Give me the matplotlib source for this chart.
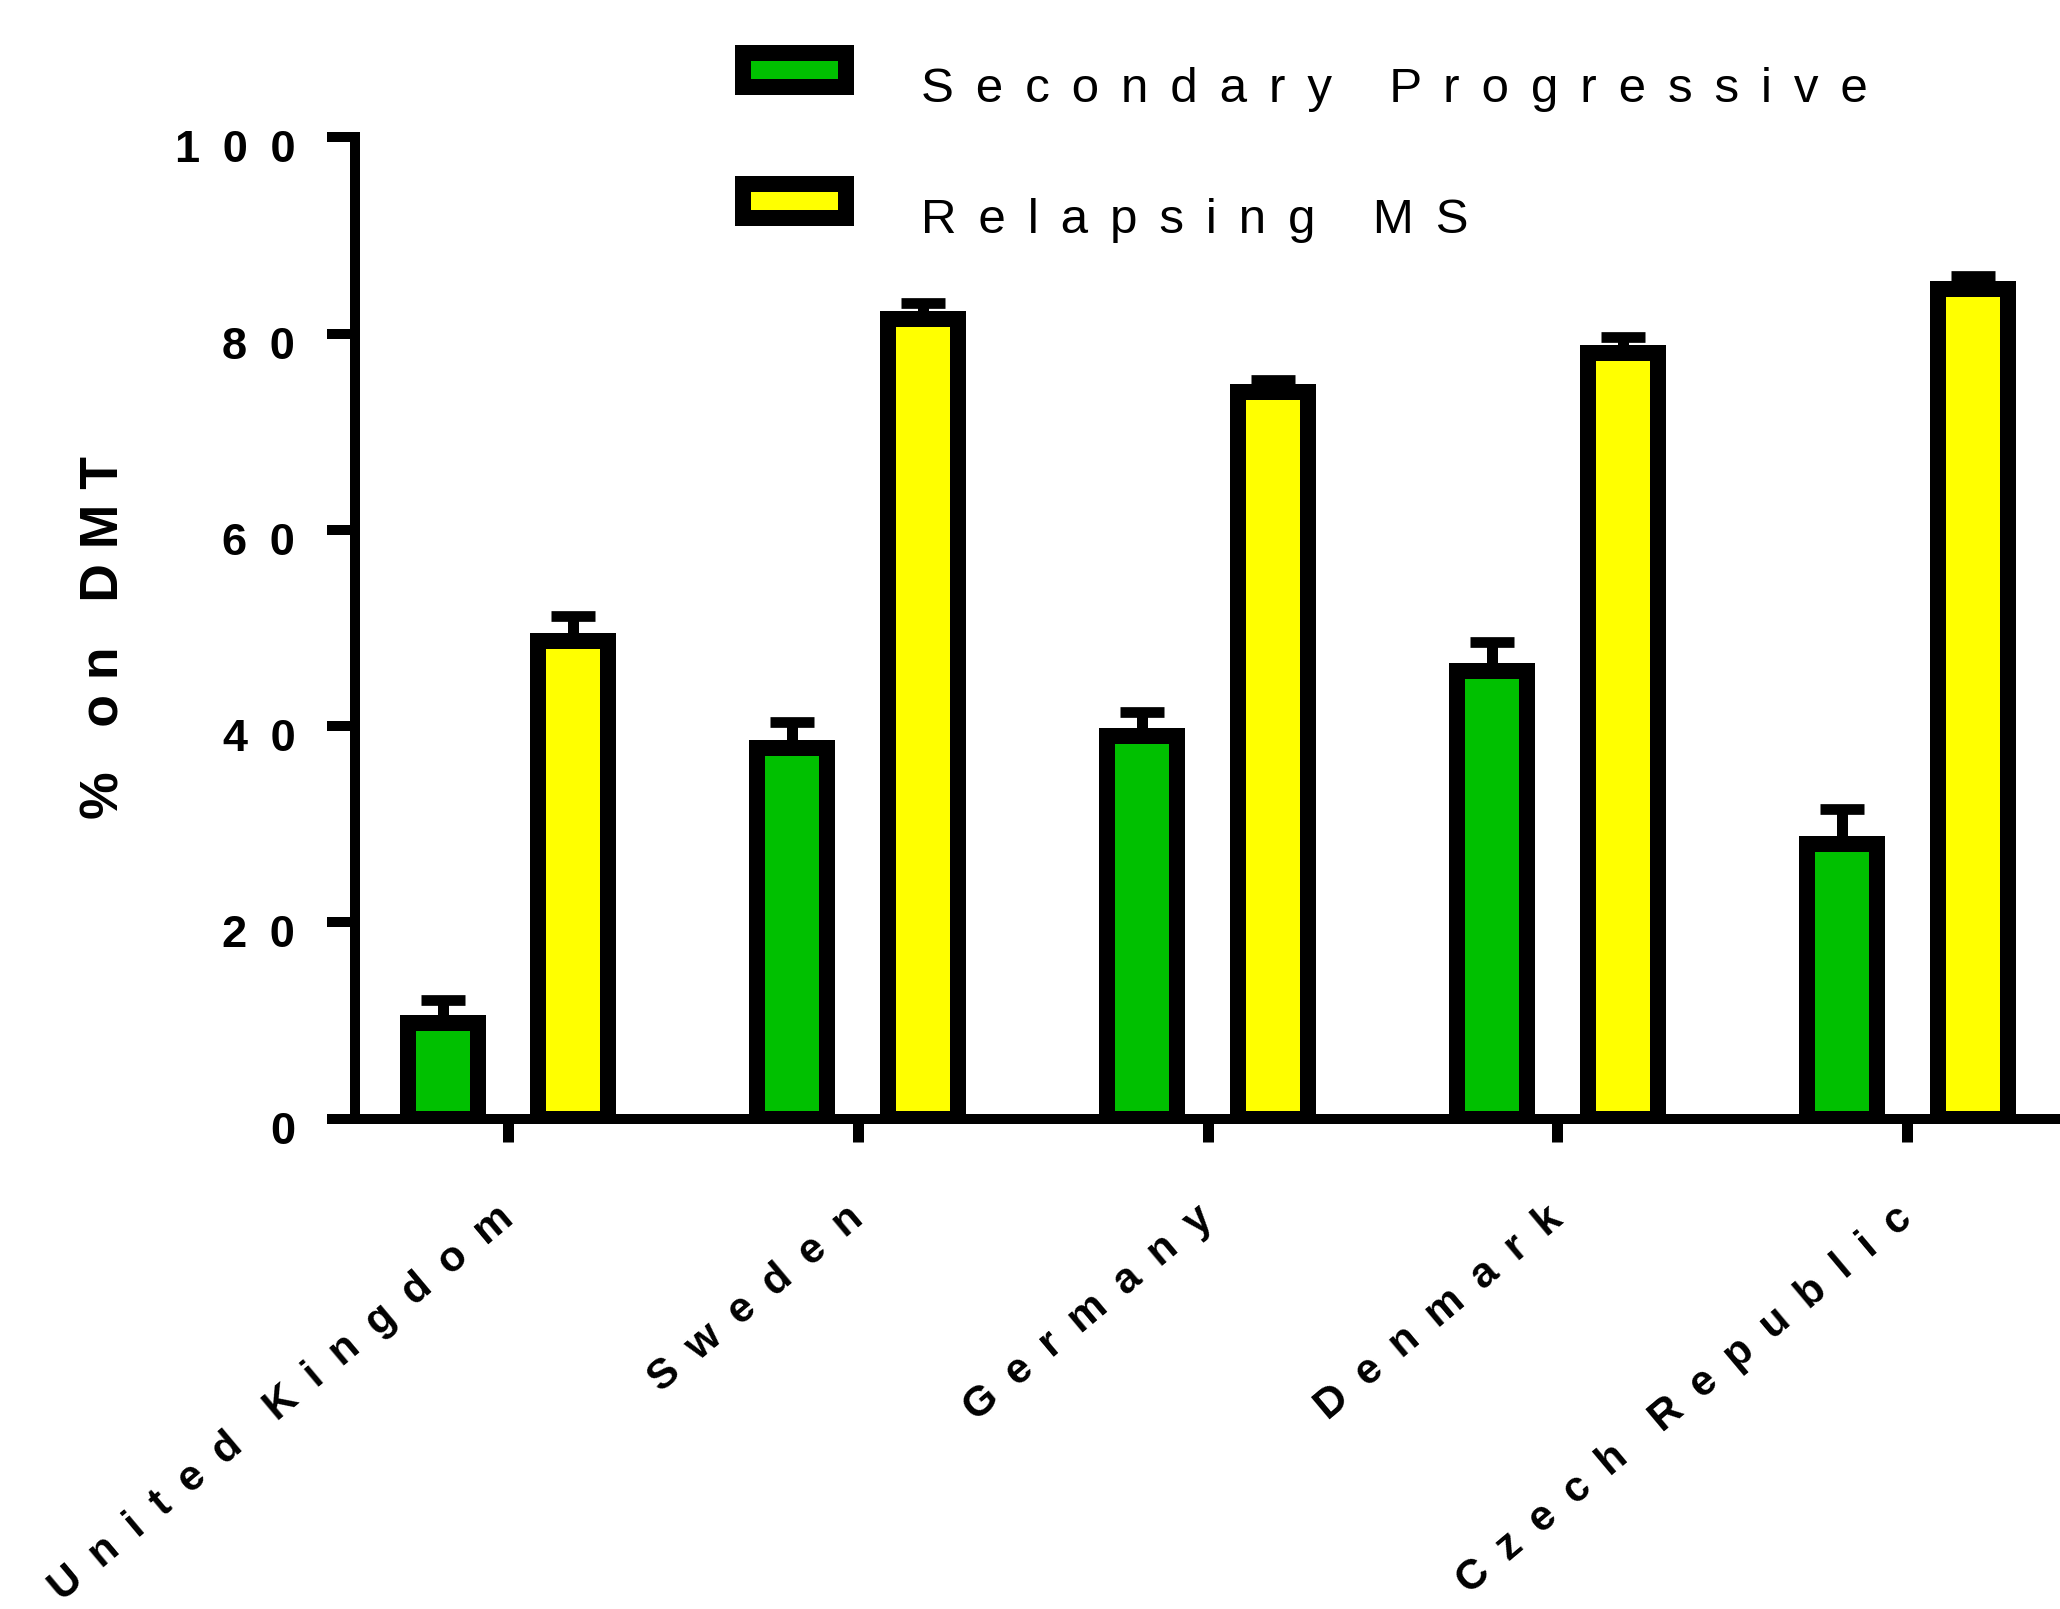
import numpy as np
import matplotlib
matplotlib.use("Agg")
import matplotlib.pyplot as plt
from matplotlib.font_manager import FontProperties
from matplotlib.transforms import ScaledTranslation
from matplotlib.legend_handler import HandlerPatch
from matplotlib.patches import Rectangle

countries = ["United Kingdom", "Sweden", "Germany", "Denmark", "Czech Republic"]
secondary_progressive = [9.8, 37.8, 39.0, 45.6, 28.0]
secondary_progressive_err = [2.3, 2.6, 2.4, 3.0, 3.6]
relapsing_ms = [48.7, 81.5, 74.0, 78.0, 84.5]
relapsing_ms_err = [2.5, 1.6, 1.3, 1.7, 1.4]
y_ticks = [0, 20, 40, 60, 80, 100]
series_names = ["Secondary Progressive", "Relapsing MS"]
y_label = "% on DMT"

GREEN = "#00C000"
YELLOW = "#FFFF00"
SANS = ["Liberation Sans", "DejaVu Sans"]


def spaced(text, gap=" "):
    """Letter-spaced version of a label (wide tracking)."""
    return gap.join(text)


def tracked(text, gap="\u2002"):
    """Letters separated by `gap`, words by a double gap."""
    return (gap * 2).join(gap.join(word) for word in text.split(" "))


DPI = 100
W, H = 2060, 1609
fig = plt.figure(figsize=(W / DPI, H / DPI), dpi=DPI)
ax = fig.add_axes([355.3 / W, (H - 1118.7) / H, (W - 355.3) / W, (1118.7 - 137.3) / H])

px = 72.0 / DPI  # points per pixel
tick_font = FontProperties(family=SANS, weight="bold", size=32.5)
cat_font = FontProperties(family=SANS, weight="bold", size=30.5)
legend_font = FontProperties(family=SANS, size=35.5)
label_font = FontProperties(family=SANS, weight="bold", size=38.5)

x = np.arange(len(countries))
offset, width = 0.187, 0.2
edge_lw = 16 * px

b1 = ax.bar(x - offset, secondary_progressive, width, color=GREEN,
            edgecolor="black", linewidth=edge_lw, zorder=3)
b2 = ax.bar(x + offset, relapsing_ms, width, color=YELLOW,
            edgecolor="black", linewidth=edge_lw, zorder=3)

err_kw = dict(fmt="none", ecolor="black", elinewidth=11 * px,
              capsize=22 * px, capthick=10.7 * px, zorder=2)
ax.errorbar(x - offset, secondary_progressive,
            yerr=[np.zeros(len(x)), secondary_progressive_err], **err_kw)
ax.errorbar(x + offset, relapsing_ms,
            yerr=[np.zeros(len(x)), relapsing_ms_err], **err_kw)

ax.set_xlim(-0.4365, 4.437)
ax.set_ylim(0, 100)

for side in ("top", "right"):
    ax.spines[side].set_visible(False)
for side in ("left", "bottom"):
    ax.spines[side].set_linewidth(10 * px)
    ax.spines[side].set_capstyle("projecting")

ax.set_yticks(y_ticks)
ax.set_yticklabels([spaced(str(v), "\u2002") for v in y_ticks],
                   fontproperties=tick_font)
ax.tick_params(axis="y", length=28 * px, width=10 * px, pad=32 * px)
shift_down = ScaledTranslation(0, -9 / DPI, fig.dpi_scale_trans)
for lab in ax.get_yticklabels():
    lab.set_transform(lab.get_transform() + shift_down)

ax.set_xticks(x)
ax.set_xticklabels([tracked(c) for c in countries], fontproperties=cat_font,
                   rotation=40, rotation_mode="anchor", ha="right", va="center")
ax.tick_params(axis="x", length=23 * px, width=11 * px, pad=72 * px)

ax.set_ylabel(spaced(y_label), fontproperties=label_font)
ax.yaxis.set_label_coords(130 / W, (H - 637) / H, transform=fig.transFigure)

fig.legend(handles=[b1.patches[0], b2.patches[0]],
           labels=[spaced(s, " \u2006") for s in series_names],
           handler_map={Rectangle: HandlerPatch(ypad=0.63)},
           loc="upper left", bbox_to_anchor=(742.5 / W, 1 - 53 / H),
           frameon=False, borderpad=0, borderaxespad=0,
           handlelength=2.1, handleheight=1.653, handletextpad=1.52,
           labelspacing=1.34, prop=legend_font)

fig.savefig("out.png", dpi=DPI, facecolor="white")
